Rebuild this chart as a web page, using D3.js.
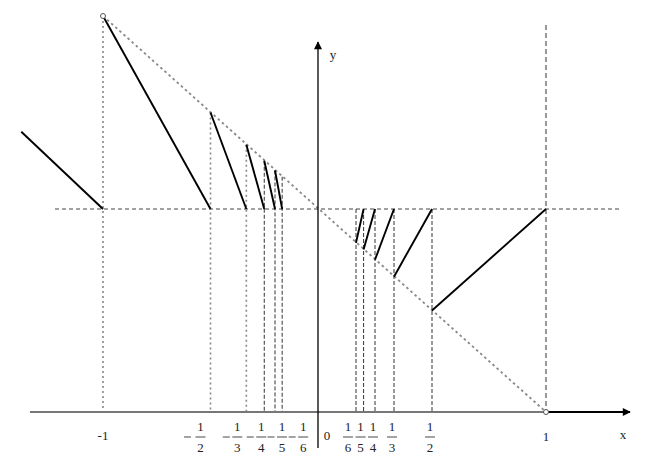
<!DOCTYPE html>
<html><head><meta charset="utf-8">
<script src="https://cdn.jsdelivr.net/npm/d3@7"></script>
<style>body{margin:0;background:#fff}svg{display:block}</style>
</head><body>
<script>
// ---- data ----
// pieces of the function: [x0, y0, x1, y1]
const leftPieces = [[-1.38, 1.40, -1, 1], [-1, 2, -1/2, 1], [-1/2, 1.5, -1/3, 1], [-1/3, 4/3, -1/4, 1], [-1/4, 1.25, -1/5, 1], [-1/5, 1.2, -1/6, 1]];
const rightPieces = [[1/2, 1/2, 1, 1], [1/3, 2/3, 1/2, 1], [1/4, 3/4, 1/3, 1], [1/5, 4/5, 1/4, 1], [1/6, 5/6, 1/5, 1]];
const diagonal = [[-1, 2], [1, 0]];
const leftGuides = [-1, -1/2, -1/3, -1/4, -1/5, -1/6];
const leftGuideTops = [2, 1.5, 4/3, 1.25, 1.2, 1.167];
const rightGuides = [1/6, 1/5, 1/4, 1/3, 1/2];
const negDenoms = [2, 3, 4, 5, 6];
const posDenoms = [6, 5, 4, 3, 2];

const W = 661, H = 473;
const x = d3.scaleLinear().domain([-1, 0, 1]).range([103, 318, 546]);
const y = d3.scaleLinear().domain([0, 1, 2]).range([412, 209, 16]);

const svg = d3.select("body").append("svg").attr("width", W).attr("height", H);
const defs = svg.append("defs");
defs.append("marker").attr("id", "arr").attr("viewBox", "0 0 10 10").attr("refX", 9).attr("refY", 5)
  .attr("markerWidth", 10).attr("markerHeight", 8).attr("markerUnits", "userSpaceOnUse").attr("orient", "auto")
  .append("path").attr("d", "M0,0 L10,5 L0,10 Z").attr("fill", "#000");

const font = "'Liberation Serif','DejaVu Serif',serif";

// horizontal dashed y=1
svg.append("line").attr("x1", 55).attr("x2", 622).attr("y1", y(1)).attr("y2", y(1))
  .attr("stroke", "#444").attr("stroke-width", 1).attr("stroke-dasharray", "4,3");

// left vertical guides
leftGuides.forEach((g, i) => {
  const dotted = i < 3;
  svg.append("line").attr("x1", x(g)).attr("x2", x(g)).attr("y1", y(leftGuideTops[i])).attr("y2", y(0))
    .attr("stroke", dotted ? "#888" : "#333").attr("stroke-width", dotted ? 1.6 : 1)
    .attr("stroke-dasharray", dotted ? "2,3" : "4,2");
});
// right vertical guides
rightGuides.forEach(g => {
  svg.append("line").attr("x1", x(g)).attr("x2", x(g)).attr("y1", y(1)).attr("y2", y(0))
    .attr("stroke", "#333").attr("stroke-width", 1).attr("stroke-dasharray", "4,2");
});
// x = 1 guide
svg.append("line").attr("x1", x(1)).attr("x2", x(1)).attr("y1", 25).attr("y2", y(0))
  .attr("stroke", "#333").attr("stroke-width", 1).attr("stroke-dasharray", "5,3");

// diagonal
svg.append("line").attr("x1", x(diagonal[0][0])).attr("y1", y(diagonal[0][1]))
  .attr("x2", x(diagonal[1][0])).attr("y2", y(diagonal[1][1]))
  .attr("stroke", "#888").attr("stroke-width", 1.8).attr("stroke-dasharray", "2.5,3");

// axes
svg.append("line").attr("x1", 30).attr("x2", x(1)).attr("y1", y(0)).attr("y2", y(0))
  .attr("stroke", "#777").attr("stroke-width", 2);
svg.append("line").attr("x1", x(1)).attr("x2", 630).attr("y1", y(0)).attr("y2", y(0))
  .attr("stroke", "#000").attr("stroke-width", 2).attr("marker-end", "url(#arr)");
svg.append("line").attr("x1", x(0)).attr("x2", x(0)).attr("y1", 448).attr("y2", 42)
  .attr("stroke", "#000").attr("stroke-width", 1.3).attr("marker-end", "url(#arr)");

// function pieces
const line = d3.line().x(d => x(d[0])).y(d => y(d[1]));
leftPieces.concat(rightPieces).forEach(p => {
  svg.append("path").attr("d", line([[p[0], p[1]], [p[2], p[3]]]))
    .attr("stroke", "#000").attr("stroke-width", 1.9).attr("fill", "none");
});

// endpoint circles
[[-1, 2], [1, 0]].forEach(p => {
  svg.append("circle").attr("cx", x(p[0])).attr("cy", y(p[1])).attr("r", 2.5)
    .attr("fill", "#fff").attr("stroke", "#555").attr("stroke-width", 1);
});

// labels
const txt = (tx, ty, s, extra) => svg.append("text").attr("x", tx).attr("y", ty).text(s)
  .attr("font-family", font).attr("font-size", 13).attr("fill", "#222").attr("text-anchor", "middle");
function frac(cx, d) {
  txt(cx, 431, "1");
  svg.append("line").attr("x1", cx - 5).attr("x2", cx + 5).attr("y1", 437).attr("y2", 437)
    .attr("stroke", "#333").attr("stroke-width", 0.9);
  txt(cx, 452, String(d));
}
function minus(cx) {
  svg.append("line").attr("x1", cx - 3.5).attr("x2", cx + 3.5).attr("y1", 437).attr("y2", 437)
    .attr("stroke", "#333").attr("stroke-width", 0.9);
}
const negOffsets = [-10, -9, -3, 7, 21];
negDenoms.forEach((d, i) => {
  const cx = x(-1 / d) + negOffsets[i];
  frac(cx, d);
  minus(cx - (i === 0 ? 13 : 11));
});
const posOffsets = [-8, -3, -2, -2, -2];
posDenoms.forEach((d, i) => frac(x(1 / d) + posOffsets[i], d));

txt(x(-1), 440, "-1");
txt(327, 440, "0");
txt(x(1), 441, "1");
txt(623, 439, "x");
txt(333, 59, "y");
</script>
</body></html>
